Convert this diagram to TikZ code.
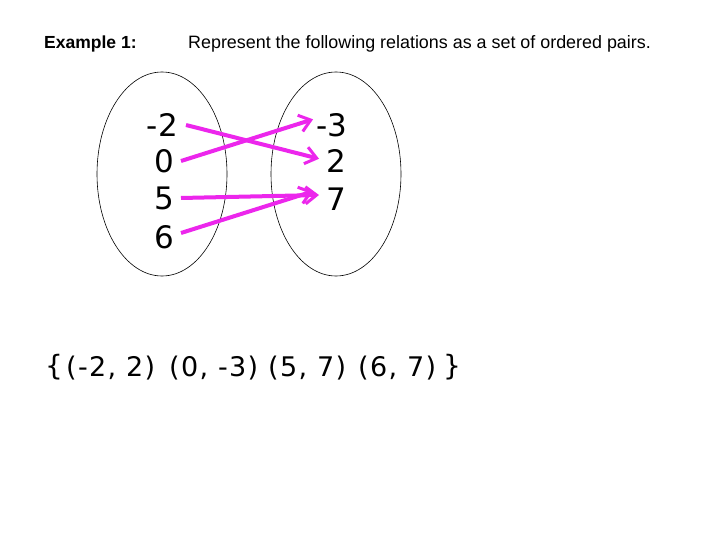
\documentclass[tikz,border=0pt]{standalone}
\usepackage{fontspec}
\setmainfont{Liberation Sans}
\newfontfamily\numfont{DejaVu Sans}
\newfontfamily\pairfont[LetterSpace=5]{DejaVu Sans}
\usetikzlibrary{arrows.meta}
\definecolor{mag}{RGB}{236,38,236}
\begin{document}
\begin{tikzpicture}[x=1pt,y=-1pt,
  num/.style={font=\numfont\fontsize{31}{31}\selectfont, inner sep=0pt},
  pairtxt/.style={font=\pairfont\fontsize{27}{27}\selectfont, inner sep=0pt},
  rel/.style={draw=mag, line width=4pt, -{Straight Barb[length=11pt,width=17pt,line width=3pt]}, shorten >=1pt}]
\useasboundingbox (0,0) rectangle (720,540);
\fill[white] (0,0) rectangle (720,540);
\node[font=\bfseries\fontsize{17.5}{17.5}\selectfont, anchor=west, inner sep=0pt] (ex) at (44,44) {Example 1:};
\node[font=\fontsize{17.9}{17.9}\selectfont, anchor=west, inner sep=0pt] (ti) at (188,44) {Represent the following relations as a set of ordered pairs.};
\draw[line width=0.6pt] (162,174) ellipse [x radius=65, y radius=102];
\draw[line width=0.6pt] (336,174) ellipse [x radius=65, y radius=102];
\node[num, anchor=east] (a1) at (178,125) {-2};
\node[num, anchor=east] (a2) at (174,161) {0};
\node[num, anchor=east] (a3) at (174,198) {5};
\node[num, anchor=east] (a4) at (174,237) {6};
\node[num, anchor=west] (b1) at (316,125) {-3};
\node[num, anchor=west] (b2) at (326,161) {2};
\node[num, anchor=west] (b3) at (326,199) {7};
\draw[rel] ([xshift=8pt]a1.east) -- ([xshift=-6pt,yshift=2pt]b2.west);
\draw[rel] ([xshift=7pt]a2.east) -- ([xshift=-2pt,yshift=6pt]b1.west);
\draw[rel] ([xshift=7pt]a3.east) -- ([xshift=-6pt,yshift=4pt]b3.west);
\draw[rel] ([xshift=7pt,yshift=4pt]a4.east) -- ([xshift=-12pt,yshift=8pt]b3.west);
\node[font=\numfont\fontsize{28}{28}\selectfont, inner sep=0pt] (lb) at (54,367) {\{};
\node[pairtxt, anchor=west] (p1) at (66,368) {(-2, 2)};
\node[pairtxt, anchor=west] (p2) at (169,368) {(0, -3)};
\node[pairtxt, anchor=west] (p3) at (268,368) {(5, 7)};
\node[pairtxt, anchor=west] (p4) at (358,368) {(6, 7)};
\node[font=\numfont\fontsize{28}{28}\selectfont, inner sep=0pt] (rb) at (452,367) {\}};
\end{tikzpicture}
\end{document}
